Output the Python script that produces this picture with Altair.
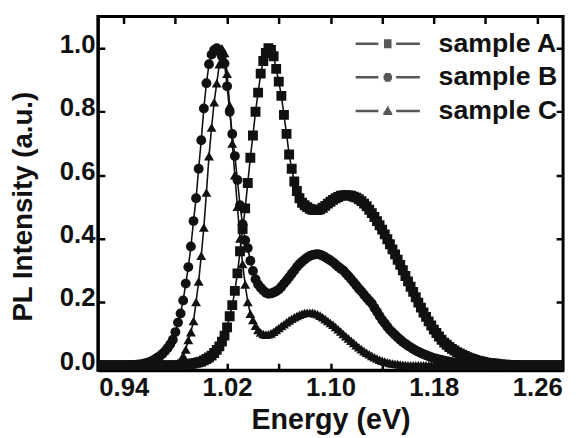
import altair as alt
import pandas as pd

# ---- data (energy grid 0.920 ... 1.280 eV, step 0.002) ----
E_START = 0.92
E_STEP = 0.002

sample_A = [
    0, 0, 0, 0, 0, 0, 0, 0, 0, 0,                                   # 0.920
    0, 0, 0, 0, 0, 0, 0, 0, 0, 0,                                   # 0.940
    0, 0, 0, 0, 0, 0, 0, 0, 0, 0,                                   # 0.960
    0, 0, 0, 0.001, 0.002, 0.003, 0.005, 0.006, 0.008, 0.010,       # 0.980
    0.012, 0.016, 0.020, 0.025, 0.031, 0.039, 0.049, 0.060, 0.075, 0.094,  # 1.000
    0.12, 0.155, 0.19, 0.235, 0.29, 0.36, 0.43, 0.495, 0.575, 0.655,       # 1.020
    0.725, 0.80, 0.86, 0.92, 0.96, 0.985, 1.0, 0.995, 0.975, 0.935,        # 1.040
    0.895, 0.85, 0.79, 0.73, 0.665, 0.62, 0.58, 0.55, 0.527, 0.513,        # 1.060
    0.505, 0.499, 0.494, 0.491, 0.490, 0.490, 0.492, 0.497, 0.503, 0.510,  # 1.080
    0.516, 0.522, 0.527, 0.531, 0.535, 0.536, 0.537, 0.536, 0.535, 0.532,  # 1.100
    0.529, 0.524, 0.518, 0.510, 0.502, 0.491, 0.480, 0.468, 0.455, 0.442,  # 1.120
    0.428, 0.413, 0.398, 0.382, 0.366, 0.350, 0.333, 0.317, 0.300, 0.282,  # 1.140
    0.265, 0.248, 0.232, 0.215, 0.198, 0.182, 0.167, 0.153, 0.139, 0.126,  # 1.160
    0.113, 0.102, 0.091, 0.081, 0.072, 0.065, 0.058, 0.052, 0.047, 0.042,  # 1.180
    0.038, 0.034, 0.030, 0.026, 0.023, 0.020, 0.017, 0.015, 0.013, 0.011,  # 1.200
    0.009, 0.008, 0.007, 0.006, 0.005, 0.004, 0.003, 0.002, 0.002, 0.001,  # 1.220
    0.001, 0, 0, 0, 0, 0, 0, 0, 0, 0,                               # 1.240
    0, 0, 0, 0, 0, 0, 0, 0, 0, 0,                                   # 1.260
    0,                                                              # 1.280
]

sample_B = [
    0, 0, 0, 0, 0, 0, 0, 0, 0, 0,                                   # 0.920
    0, 0, 0, 0.001, 0.001, 0.002, 0.003, 0.004, 0.006, 0.008,       # 0.940
    0.011, 0.015, 0.019, 0.024, 0.030, 0.037, 0.045, 0.055, 0.067, 0.081,  # 0.960
    0.105, 0.135, 0.164, 0.205, 0.258, 0.31, 0.375, 0.455, 0.527, 0.62,    # 0.980
    0.71, 0.81, 0.89, 0.95, 0.98, 0.995, 1.0, 0.99, 0.975, 0.952,          # 1.000
    0.88, 0.80, 0.73, 0.66, 0.585, 0.505, 0.445, 0.395, 0.37, 0.33,        # 1.020
    0.298, 0.272, 0.255, 0.245, 0.236, 0.229, 0.226, 0.227, 0.23, 0.234,   # 1.040
    0.239, 0.248, 0.258, 0.268, 0.278, 0.289, 0.299, 0.31, 0.32, 0.327,    # 1.060
    0.334, 0.34, 0.345, 0.348, 0.35, 0.351, 0.349, 0.346, 0.341, 0.336,    # 1.080
    0.331, 0.325, 0.318, 0.311, 0.305, 0.299, 0.29, 0.281, 0.272, 0.262,   # 1.100
    0.252, 0.242, 0.233, 0.223, 0.213, 0.204, 0.195, 0.182, 0.169, 0.156,  # 1.120
    0.143, 0.133, 0.122, 0.112, 0.104, 0.096, 0.088, 0.081, 0.074, 0.068,  # 1.140
    0.062, 0.057, 0.052, 0.047, 0.043, 0.039, 0.035, 0.032, 0.029, 0.026,  # 1.160
    0.023, 0.021, 0.019, 0.017, 0.015, 0.013, 0.012, 0.010, 0.009, 0.008,  # 1.180
    0.007, 0.006, 0.005, 0.004, 0.004, 0.003, 0.002, 0.002, 0.001, 0.001,  # 1.200
    0, 0, 0, 0, 0, 0, 0, 0, 0, 0,                                   # 1.220
    0, 0, 0, 0, 0, 0, 0, 0, 0, 0,                                   # 1.240
    0, 0, 0, 0, 0, 0, 0, 0, 0, 0,                                   # 1.260
    0,                                                              # 1.280
]

sample_C = [
    0, 0, 0, 0, 0, 0, 0, 0, 0, 0,                                   # 0.920
    0, 0, 0, 0, 0, 0, 0, 0, 0, 0,                                   # 0.940
    0, 0, 0, 0, 0, 0, 0, 0, 0.001, 0.002,                           # 0.960
    0.004, 0.008, 0.015, 0.03, 0.05, 0.08, 0.105, 0.14, 0.2, 0.265,        # 0.980
    0.346, 0.435, 0.545, 0.66, 0.75, 0.83, 0.89, 0.95, 1.0, 0.985,         # 1.000
    0.92, 0.82, 0.70, 0.60, 0.50, 0.40, 0.32, 0.255, 0.20, 0.163,          # 1.020
    0.143, 0.125, 0.112, 0.104, 0.099, 0.097, 0.098, 0.101, 0.106, 0.112,  # 1.040
    0.118, 0.124, 0.13, 0.136, 0.142, 0.147, 0.152, 0.156, 0.16, 0.163,    # 1.060
    0.165, 0.166, 0.166, 0.166, 0.164, 0.161, 0.157, 0.152, 0.146, 0.140,  # 1.080
    0.134, 0.128, 0.121, 0.114, 0.107, 0.099, 0.092, 0.085, 0.078, 0.071,  # 1.100
    0.064, 0.057, 0.051, 0.045, 0.040, 0.035, 0.030, 0.026, 0.022, 0.018,  # 1.120
    0.015, 0.012, 0.010, 0.008, 0.006, 0.005, 0.004, 0.003, 0.002, 0.001,  # 1.140
    0, 0, 0, 0, 0, 0, 0, 0, 0, 0,                                   # 1.160
    0, 0, 0, 0, 0, 0, 0, 0, 0, 0,                                   # 1.180
    0, 0, 0, 0, 0, 0, 0, 0, 0, 0,                                   # 1.200
    0, 0, 0, 0, 0, 0, 0, 0, 0, 0,                                   # 1.220
    0, 0, 0, 0, 0, 0, 0, 0, 0, 0,                                   # 1.240
    0, 0, 0, 0, 0, 0, 0, 0, 0, 0,                                   # 1.260
    0,                                                              # 1.280
]

series_names = ["sample A", "sample B", "sample C"]
x_ticks = [0.94, 0.98, 1.02, 1.06, 1.10, 1.14, 1.18, 1.22, 1.26]
y_ticks = [0.0, 0.1, 0.2, 0.3, 0.4, 0.5, 0.6, 0.7, 0.8, 0.9, 1.0]

rows = []
for name, vals in zip(series_names, [sample_A, sample_B, sample_C]):
    for i, v in enumerate(vals):
        rows.append({"E": round(E_START + i * E_STEP, 3), "I": v, "sample": name})
df = pd.DataFrame(rows)

# ---- layout ----
W, H = 471, 358
FONT = "Liberation Sans"
INK = "#111111"
FRAME = "black"

xscale = alt.Scale(domain=[0.92, 1.28], nice=False, zero=False)
yscale = alt.Scale(domain=[-0.015, 1.1], nice=False, zero=False)

x_axis = alt.Axis(
    values=x_ticks, format=".2f",
    labelExpr="round(datum.value*100) % 8 == 6 ? datum.label : ''",
    labelFont=FONT, labelFontSize=26, labelFontWeight="bold", labelColor=INK,
    labelPadding=5, labelOverlap=False, labelFlush=False, labelBound=False,
    ticks=False, tickSize=0,
    domain=True, domainColor=FRAME, domainWidth=3, domainOpacity=1,
    grid=True, gridColor=FRAME, gridWidth=2.5, gridOpacity=1, gridDash=[7, H - 14],
    title="Energy (eV)", titleFont=FONT, titleFontSize=29, titleFontWeight="bold",
    titleColor=INK, titleX=W / 2, titleY=59, titleAlign="center",
    titleBaseline="alphabetic",
)
y_axis = alt.Axis(
    values=y_ticks, format=".1f",
    labelExpr="round(datum.value*10) % 2 == 0 ? datum.label : ''",
    labelFont=FONT, labelFontSize=26, labelFontWeight="bold", labelColor=INK,
    labelPadding=3, labelOffset=-4, labelOverlap=False, labelFlush=False,
    labelBound=False, labelBaseline="middle",
    ticks=False, tickSize=0,
    domain=True, domainColor=FRAME, domainWidth=3, domainOpacity=1,
    grid=True, gridColor=FRAME, gridWidth=2.5, gridOpacity=1, gridDash=[7, W - 14],
    title="PL Intensity (a.u.)", titleFont=FONT, titleFontSize=28,
    titleFontWeight="bold", titleColor=INK, titleAngle=270,
    titleX=-75, titleY=192, titleAlign="center", titleBaseline="middle",
)

# legend symbols: line - marker - line (marker built from close strokes)
SEG = "M-3.25,0H-0.95M0.85,0H3.25"
legend_paths = [
    SEG + "M-0.38,-0.32H0.38M-0.38,-0.16H0.38M-0.38,0H0.38M-0.38,0.16H0.38M-0.38,0.32H0.38",
    SEG + "M-0.28,-0.32H0.28M-0.4,-0.16H0.4M-0.43,0H0.43M-0.4,0.16H0.4M-0.28,0.32H0.28",
    SEG + "M-0.08,-0.34H0.08M-0.17,-0.18H0.17M-0.26,-0.02H0.26M-0.35,0.14H0.35M-0.45,0.3H0.45",
]

base = alt.Chart(df)

lines = base.mark_line(color=INK, strokeWidth=1.6, clip=True).encode(
    x=alt.X("E:Q", scale=xscale, axis=x_axis),
    y=alt.Y("I:Q", scale=yscale, axis=y_axis),
    detail="sample:N",
)

points = base.mark_point(filled=True, color=INK, opacity=1, size=100, clip=True).encode(
    x=alt.X("E:Q", scale=xscale),
    y=alt.Y("I:Q", scale=yscale),
    shape=alt.Shape("sample:N",
                    scale=alt.Scale(domain=series_names,
                                    range=["square", "circle", "triangle-up"]),
                    legend=None),
)

legend_layer = base.transform_filter("datum.I < -1").mark_point(
    filled=False, color=INK, strokeWidth=2.5, size=400
).encode(
    x=alt.X("E:Q", scale=xscale),
    y=alt.Y("I:Q", scale=yscale),
    shape=alt.Shape("sample:N",
                    scale=alt.Scale(domain=series_names, range=legend_paths),
                    legend=alt.Legend(
                        title=None, orient="none", legendX=280, legendY=14,
                        labelFont=FONT, labelFontSize=27, labelFontWeight="bold",
                        labelColor=INK, labelOffset=38, labelLimit=0,
                        symbolSize=400, symbolStrokeWidth=2.5,
                        symbolStrokeColor=INK,
                        symbolOffset=0, rowPadding=6, padding=0,
                    )),
)

chart = alt.layer(lines, points, legend_layer).resolve_scale(
    shape="independent"
).properties(
    width=W, height=H,
    padding={"left": 2, "top": 6, "right": 5, "bottom": 0},
    background="white",
).configure_view(stroke=FRAME, strokeWidth=3)

chart.save("out.html", embed_options={"renderer": "svg", "actions": False})
